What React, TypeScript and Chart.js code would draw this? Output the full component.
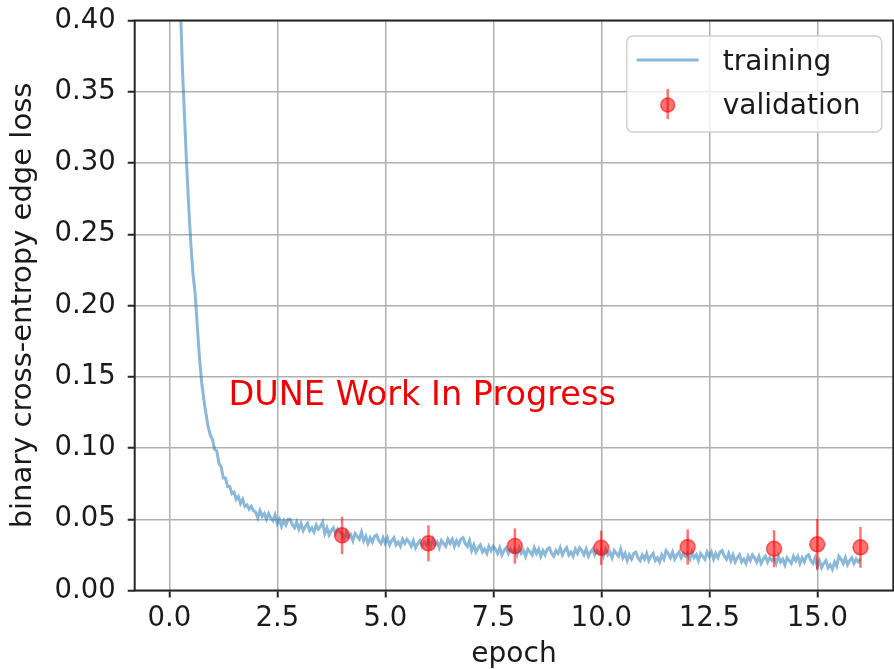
import React, { useEffect, useRef } from "react";
import { Chart, registerables } from "chart.js";

Chart.register(...registerables);

// ---------- data ----------
const xTickValues = [0, 2.5, 5, 7.5, 10, 12.5, 15];
const yTickValues = [0, 0.05, 0.1, 0.15, 0.2, 0.25, 0.3, 0.35, 0.4];

const xTitle = "epoch";
const yTitle = "binary cross-entropy edge loss";
const watermarkText = "DUNE Work In Progress";
const legendLabels = ["training", "validation"];

// training loss, sampled every 0.05 epoch starting at epoch 0.20
const trainStartEpoch = 0.2;
const trainEpochStep = 0.05;
const trainLoss = [
  // 0.20 - 0.95
  0.47, 0.42, 0.37, 0.335, 0.3, 0.27, 0.243, 0.222, 0.208, 0.185, 0.163, 0.146, 0.134, 0.124, 0.115, 0.109,
  // 1.00 - 1.95
  0.106, 0.099, 0.098, 0.089, 0.087, 0.079, 0.079, 0.073, 0.073, 0.068, 0.069, 0.064, 0.066, 0.061, 0.064, 0.059, 0.06, 0.057, 0.059, 0.056,
  // 2.00 - 2.95
  0.055, 0.051, 0.056, 0.052, 0.054, 0.05, 0.054, 0.051, 0.049, 0.053, 0.047, 0.05, 0.045, 0.049, 0.046, 0.05, 0.05, 0.046, 0.044, 0.048,
  // 3.00 - 3.95
  0.043, 0.047, 0.042, 0.045, 0.047, 0.042, 0.044, 0.041, 0.046, 0.043, 0.045, 0.048, 0.04, 0.044, 0.039, 0.042, 0.044, 0.04, 0.043, 0.041,
  // 4.00 - 4.95
  0.04, 0.036, 0.041, 0.037, 0.039, 0.035, 0.04, 0.038, 0.036, 0.041, 0.035, 0.038, 0.033, 0.037, 0.034, 0.038, 0.039, 0.035, 0.033, 0.037,
  // 5.00 - 5.95
  0.033, 0.037, 0.032, 0.035, 0.037, 0.032, 0.034, 0.031, 0.036, 0.033, 0.036, 0.034, 0.031, 0.035, 0.03, 0.033, 0.035, 0.031, 0.034, 0.032,
  // 6.00 - 6.95
  0.035, 0.031, 0.036, 0.032, 0.034, 0.03, 0.035, 0.033, 0.031, 0.036, 0.033, 0.036, 0.031, 0.035, 0.032, 0.036, 0.037, 0.033, 0.031, 0.035,
  // 7.00 - 7.95
  0.028, 0.032, 0.027, 0.03, 0.032, 0.027, 0.029, 0.026, 0.031, 0.028, 0.031, 0.029, 0.026, 0.03, 0.025, 0.028, 0.03, 0.026, 0.029, 0.027,
  // 8.00 - 8.95
  0.029, 0.025, 0.03, 0.026, 0.028, 0.024, 0.029, 0.027, 0.025, 0.03, 0.026, 0.029, 0.024, 0.028, 0.025, 0.029, 0.03, 0.026, 0.024, 0.028,
  // 9.00 - 9.95
  0.026, 0.03, 0.025, 0.028, 0.03, 0.025, 0.027, 0.024, 0.029, 0.026, 0.03, 0.028, 0.025, 0.029, 0.024, 0.027, 0.029, 0.025, 0.028, 0.026,
  // 10.00 - 10.95
  0.028, 0.024, 0.029, 0.025, 0.027, 0.023, 0.028, 0.026, 0.024, 0.029, 0.023, 0.026, 0.021, 0.025, 0.022, 0.026, 0.027, 0.023, 0.021, 0.025,
  // 11.00 - 11.95
  0.022, 0.026, 0.021, 0.024, 0.026, 0.021, 0.023, 0.02, 0.025, 0.022, 0.028, 0.026, 0.023, 0.027, 0.022, 0.025, 0.027, 0.023, 0.026, 0.024,
  // 12.00 - 12.95
  0.026, 0.022, 0.027, 0.023, 0.025, 0.021, 0.026, 0.024, 0.022, 0.027, 0.024, 0.027, 0.022, 0.026, 0.023, 0.027, 0.028, 0.024, 0.022, 0.026,
  // 13.00 - 13.95
  0.021, 0.025, 0.02, 0.023, 0.025, 0.02, 0.022, 0.019, 0.024, 0.021, 0.025, 0.023, 0.02, 0.024, 0.019, 0.022, 0.024, 0.02, 0.023, 0.021,
  // 14.00 - 14.95
  0.023, 0.019, 0.024, 0.02, 0.022, 0.018, 0.023, 0.021, 0.019, 0.024, 0.021, 0.024, 0.019, 0.023, 0.02, 0.024, 0.025, 0.021, 0.019, 0.023,
  // 15.00 - 15.95
  0.017, 0.021, 0.016, 0.019, 0.021, 0.016, 0.018, 0.015, 0.02, 0.017, 0.024, 0.022, 0.019, 0.023, 0.018, 0.021, 0.023, 0.019, 0.022, 0.02,
  // 16.00
  0.022,
];

const valEpochs = [4, 6, 8, 10, 12, 14, 15, 16];
const valLoss = [0.0387, 0.0331, 0.0312, 0.03, 0.0305, 0.0293, 0.0324, 0.0303];
const valErr = [0.0131, 0.0126, 0.0124, 0.012, 0.0124, 0.013, 0.0178, 0.0143];

// ---------- styles ----------
const FONT = '"DejaVu Sans", "Liberation Sans", sans-serif';
const TEXT_COLOR = "#1a1a1a";
const TRAIN_COLOR = "rgba(31,119,180,0.52)";
const VAL_COLOR = "rgba(255,0,0,0.55)";
const GRID_COLOR = "#b0b0b0";
const SPINE_COLOR = "#262626";

const zeroPadding = (s: any) => {
  s.paddingTop = 0;
  s.paddingBottom = 0;
  s.paddingLeft = 0;
  s.paddingRight = 0;
};

const decorPlugin = {
  id: "decor",
  afterDatasetsDraw(chart: any) {
    const { ctx, chartArea: a } = chart;
    const xs = chart.scales.x;
    const ys = chart.scales.y;
    ctx.save();

    // error bars
    ctx.strokeStyle = VAL_COLOR;
    ctx.lineWidth = 2.5;
    valEpochs.forEach((e, i) => {
      const px = xs.getPixelForValue(e);
      ctx.beginPath();
      ctx.moveTo(px, ys.getPixelForValue(valLoss[i] - valErr[i]));
      ctx.lineTo(px, ys.getPixelForValue(valLoss[i] + valErr[i]));
      ctx.stroke();
    });

    // watermark text
    ctx.fillStyle = "#f00000";
    ctx.font = `33.5px ${FONT}`;
    ctx.textAlign = "left";
    ctx.textBaseline = "alphabetic";
    ctx.fillText(watermarkText, xs.getPixelForValue(1.37), ys.getPixelForValue(0.13));

    // spines
    ctx.strokeStyle = SPINE_COLOR;
    ctx.lineWidth = 2;
    ctx.strokeRect(a.left, a.top, a.right - a.left, a.bottom - a.top);

    // legend
    const bw = 255;
    const bh = 96;
    const bx = a.right - 11.6 - bw;
    const by = a.top + 15.5;
    ctx.beginPath();
    (ctx as any).roundRect(bx, by, bw, bh, 6);
    ctx.fillStyle = "rgba(255,255,255,0.8)";
    ctx.fill();
    ctx.strokeStyle = "#d0d0d0";
    ctx.lineWidth = 1.5;
    ctx.stroke();

    // training entry
    const row1 = by + 24;
    ctx.strokeStyle = TRAIN_COLOR;
    ctx.lineWidth = 3;
    ctx.beginPath();
    ctx.moveTo(bx + 10, row1);
    ctx.lineTo(bx + 72, row1);
    ctx.stroke();

    // validation entry
    const row2 = by + 69;
    const mx = bx + 41;
    ctx.strokeStyle = VAL_COLOR;
    ctx.lineWidth = 2.5;
    ctx.beginPath();
    ctx.moveTo(mx, row2 - 16);
    ctx.lineTo(mx, row2 + 14);
    ctx.stroke();
    ctx.beginPath();
    ctx.arc(mx, row2, 7, 0, Math.PI * 2);
    ctx.fillStyle = VAL_COLOR;
    ctx.fill();
    ctx.lineWidth = 1.5;
    ctx.stroke();

    ctx.fillStyle = TEXT_COLOR;
    ctx.font = `28px ${FONT}`;
    ctx.textBaseline = "alphabetic";
    ctx.fillText(legendLabels[0], bx + 96, by + 34);
    ctx.fillText(legendLabels[1], bx + 96, by + 78);

    ctx.restore();
  },
};

export default function App() {
  const canvasRef = useRef<HTMLCanvasElement | null>(null);

  useEffect(() => {
    document.body.style.margin = "0";
    const canvas = canvasRef.current;
    if (!canvas) return;

    const trainData = trainLoss.map((v, i) => ({
      x: trainStartEpoch + i * trainEpochStep,
      y: v,
    }));
    const valData = valEpochs.map((e, i) => ({ x: e, y: valLoss[i] }));

    const tickFont = { family: FONT, size: 27.5 };

    const chart = new Chart(canvas, {
      type: "line",
      data: {
        datasets: [
          {
            label: legendLabels[1],
            data: valData,
            showLine: false,
            pointRadius: 7.5,
            pointBorderWidth: 1.5,
            pointBackgroundColor: VAL_COLOR,
            pointBorderColor: VAL_COLOR,
            order: 0,
          },
          {
            label: legendLabels[0],
            data: trainData,
            borderColor: TRAIN_COLOR,
            borderWidth: 3,
            pointRadius: 0,
            tension: 0,
            clip: 0,
            order: 1,
          },
        ],
      },
      options: {
        animation: false,
        responsive: false,
        devicePixelRatio: 1,
        events: [],
        layout: {
          autoPadding: false,
          padding: { top: 20.5, right: 0.7, left: 0, bottom: 0 },
        },
        plugins: {
          legend: { display: false },
          tooltip: { enabled: false },
        },
        scales: {
          x: {
            type: "linear",
            min: -0.8,
            max: 16.76,
            afterBuildTicks: (s: any) => {
              s.ticks = xTickValues.map((v) => ({ value: v }));
            },
            afterFit: (s: any) => {
              s.height = 78.5;
              zeroPadding(s);
            },
            ticks: {
              autoSkip: false,
              maxRotation: 0,
              padding: 5,
              color: TEXT_COLOR,
              font: tickFont,
              callback: (v: any) => Number(v).toFixed(1),
            },
            grid: {
              color: GRID_COLOR,
              lineWidth: 1.5,
              tickLength: 7,
              tickColor: SPINE_COLOR,
              tickWidth: 2,
            },
            border: { display: false },
            title: {
              display: true,
              text: xTitle,
              color: TEXT_COLOR,
              font: { family: FONT, size: 28, lineHeight: 1 },
              padding: { top: 0, bottom: 0 },
            },
          },
          y: {
            type: "linear",
            min: 0,
            max: 0.4,
            afterBuildTicks: (s: any) => {
              s.ticks = yTickValues.map((v) => ({ value: v }));
            },
            afterFit: (s: any) => {
              s.width = 134.7;
              zeroPadding(s);
            },
            ticks: {
              autoSkip: false,
              padding: 12,
              color: TEXT_COLOR,
              font: tickFont,
              callback: (v: any) => Number(v).toFixed(2),
            },
            grid: {
              color: GRID_COLOR,
              lineWidth: 1.5,
              tickLength: 7,
              tickColor: SPINE_COLOR,
              tickWidth: 2,
            },
            border: { display: false },
            title: {
              display: true,
              text: yTitle,
              color: TEXT_COLOR,
              font: { family: FONT, size: 29, lineHeight: 1 },
              padding: { top: 9, bottom: 0 },
            },
          },
        },
      },
      plugins: [decorPlugin],
    } as any);

    return () => chart.destroy();
  }, []);

  return (
    <div style={{ width: 894, height: 669, position: "relative" }}>
      <canvas ref={canvasRef} width={894} height={669} style={{ display: "block" }} />
    </div>
  );
}
